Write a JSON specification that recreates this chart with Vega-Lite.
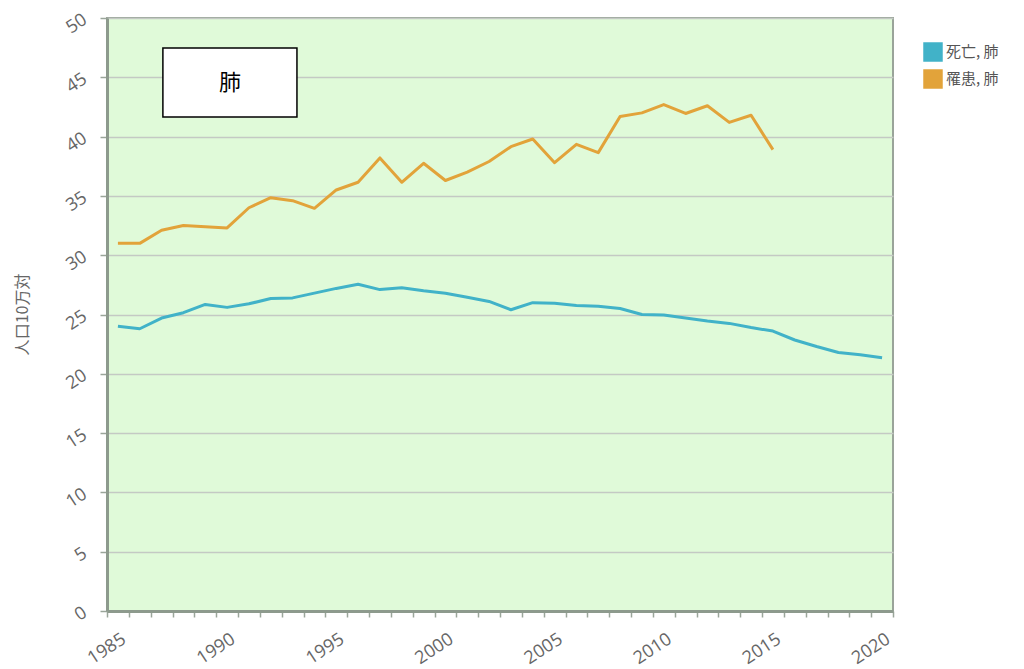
{
  "$schema": "https://vega.github.io/schema/vega-lite/v6.json",
  "width": 786,
  "height": 593,
  "autosize": {"type": "none"},
  "padding": {"left": 107, "top": 18, "right": 131, "bottom": 58},
  "background": "white",
  "config": {
    "font": "Open Sans",
    "view": {"fill": "#e0fad9", "stroke": "#9aa49a", "strokeWidth": 2},
    "axis": {"labelFont": "Open Sans", "titleFont": "Noto Sans CJK JP"}
  },
  "layer": [
    {
      "data": {
        "values": [
          {"year": 1985, "series": "死亡, 肺", "value": 24.0},
          {"year": 1986, "series": "死亡, 肺", "value": 23.8},
          {"year": 1987, "series": "死亡, 肺", "value": 24.7},
          {"year": 1988, "series": "死亡, 肺", "value": 25.15},
          {"year": 1989, "series": "死亡, 肺", "value": 25.85},
          {"year": 1990, "series": "死亡, 肺", "value": 25.6},
          {"year": 1991, "series": "死亡, 肺", "value": 25.9},
          {"year": 1992, "series": "死亡, 肺", "value": 26.35},
          {"year": 1993, "series": "死亡, 肺", "value": 26.4},
          {"year": 1994, "series": "死亡, 肺", "value": 26.8},
          {"year": 1995, "series": "死亡, 肺", "value": 27.2},
          {"year": 1996, "series": "死亡, 肺", "value": 27.55},
          {"year": 1997, "series": "死亡, 肺", "value": 27.1},
          {"year": 1998, "series": "死亡, 肺", "value": 27.25},
          {"year": 1999, "series": "死亡, 肺", "value": 27.0},
          {"year": 2000, "series": "死亡, 肺", "value": 26.8},
          {"year": 2001, "series": "死亡, 肺", "value": 26.45},
          {"year": 2002, "series": "死亡, 肺", "value": 26.1},
          {"year": 2003, "series": "死亡, 肺", "value": 25.4},
          {"year": 2004, "series": "死亡, 肺", "value": 26.0},
          {"year": 2005, "series": "死亡, 肺", "value": 25.95},
          {"year": 2006, "series": "死亡, 肺", "value": 25.75},
          {"year": 2007, "series": "死亡, 肺", "value": 25.7},
          {"year": 2008, "series": "死亡, 肺", "value": 25.5},
          {"year": 2009, "series": "死亡, 肺", "value": 25.0},
          {"year": 2010, "series": "死亡, 肺", "value": 24.95},
          {"year": 2011, "series": "死亡, 肺", "value": 24.7},
          {"year": 2012, "series": "死亡, 肺", "value": 24.45},
          {"year": 2013, "series": "死亡, 肺", "value": 24.25},
          {"year": 2014, "series": "死亡, 肺", "value": 23.9},
          {"year": 2015, "series": "死亡, 肺", "value": 23.6},
          {"year": 2016, "series": "死亡, 肺", "value": 22.85},
          {"year": 2017, "series": "死亡, 肺", "value": 22.3},
          {"year": 2018, "series": "死亡, 肺", "value": 21.8},
          {"year": 2019, "series": "死亡, 肺", "value": 21.6},
          {"year": 2020, "series": "死亡, 肺", "value": 21.35},
          {"year": 1985, "series": "罹患, 肺", "value": 31.0},
          {"year": 1986, "series": "罹患, 肺", "value": 31.0},
          {"year": 1987, "series": "罹患, 肺", "value": 32.1},
          {"year": 1988, "series": "罹患, 肺", "value": 32.5},
          {"year": 1989, "series": "罹患, 肺", "value": 32.4},
          {"year": 1990, "series": "罹患, 肺", "value": 32.3},
          {"year": 1991, "series": "罹患, 肺", "value": 34.0},
          {"year": 1992, "series": "罹患, 肺", "value": 34.85},
          {"year": 1993, "series": "罹患, 肺", "value": 34.6},
          {"year": 1994, "series": "罹患, 肺", "value": 33.95},
          {"year": 1995, "series": "罹患, 肺", "value": 35.5},
          {"year": 1996, "series": "罹患, 肺", "value": 36.15},
          {"year": 1997, "series": "罹患, 肺", "value": 38.2},
          {"year": 1998, "series": "罹患, 肺", "value": 36.15},
          {"year": 1999, "series": "罹患, 肺", "value": 37.75},
          {"year": 2000, "series": "罹患, 肺", "value": 36.3},
          {"year": 2001, "series": "罹患, 肺", "value": 37.0},
          {"year": 2002, "series": "罹患, 肺", "value": 37.9},
          {"year": 2003, "series": "罹患, 肺", "value": 39.15},
          {"year": 2004, "series": "罹患, 肺", "value": 39.8},
          {"year": 2005, "series": "罹患, 肺", "value": 37.8},
          {"year": 2006, "series": "罹患, 肺", "value": 39.35},
          {"year": 2007, "series": "罹患, 肺", "value": 38.65},
          {"year": 2008, "series": "罹患, 肺", "value": 41.7},
          {"year": 2009, "series": "罹患, 肺", "value": 42.0},
          {"year": 2010, "series": "罹患, 肺", "value": 42.7},
          {"year": 2011, "series": "罹患, 肺", "value": 41.95},
          {"year": 2012, "series": "罹患, 肺", "value": 42.6},
          {"year": 2013, "series": "罹患, 肺", "value": 41.2},
          {"year": 2014, "series": "罹患, 肺", "value": 41.8},
          {"year": 2015, "series": "罹患, 肺", "value": 38.9}
        ]
      },
      "mark": {"type": "line", "strokeWidth": 3, "strokeJoin": "round"},
      "encoding": {
        "x": {
          "field": "year",
          "type": "quantitative",
          "scale": {"domain": [1984.5, 2020.5], "nice": false, "zero": false},
          "axis": {
            "title": null,
            "tickCount": 100,
            "values": [1984.5, 1985.5, 1986.5, 1987.5, 1988.5, 1989.5, 1990.5, 1991.5, 1992.5, 1993.5, 1994.5, 1995.5, 1996.5, 1997.5, 1998.5, 1999.5, 2000.5, 2001.5, 2002.5, 2003.5, 2004.5, 2005.5, 2006.5, 2007.5, 2008.5, 2009.5, 2010.5, 2011.5, 2012.5, 2013.5, 2014.5, 2015.5, 2016.5, 2017.5, 2018.5, 2019.5, 2020.5],
            "labelExpr": "(datum.value + 0.5) % 5 == 0 ? '' + (datum.value + 0.5) : ''",
            "labelOffset": 12,
            "labelAngle": -33,
            "labelAlign": "right",
            "labelBaseline": "top",
            "labelPadding": 13,
            "labelOverlap": false,
            "labelFlush": false,
            "labelFontSize": 18,
            "labelColor": "#666666",
            "grid": false,
            "domainColor": "#8d9a8d",
            "domainWidth": 3,
            "tickColor": "#9aa59a",
            "tickSize": 6,
            "tickWidth": 1.5
          }
        },
        "y": {
          "field": "value",
          "type": "quantitative",
          "scale": {"domain": [0, 50], "nice": false},
          "axis": {
            "title": "人口10万対",
            "titleX": -85,
            "titleY": 296,
            "titleAngle": -90,
            "titleAlign": "center",
            "titleBaseline": "middle",
            "titleFontSize": 16,
            "titleFontWeight": "normal",
            "titleColor": "#666666",
            "tickCount": 20,
            "values": [0, 5, 10, 15, 20, 25, 30, 35, 40, 45, 50],
            "labelAngle": -33,
            "labelAlign": "right",
            "labelBaseline": "middle",
            "labelPadding": 15,
            "labelFlush": false,
            "labelFontSize": 18,
            "labelColor": "#666666",
            "grid": true,
            "gridColor": "#c4c9c4",
            "gridWidth": 1.5,
            "domainColor": "#8d9a8d",
            "domainWidth": 3,
            "tickColor": "#9aa59a",
            "tickSize": 7,
            "tickWidth": 1.5
          }
        },
        "color": {
          "field": "series",
          "type": "nominal",
          "scale": {"domain": ["死亡, 肺", "罹患, 肺"], "range": ["#41b2c8", "#e2a33a"]},
          "legend": {
            "title": null,
            "orient": "none",
            "legendX": 816,
            "legendY": 24,
            "symbolType": "square",
            "symbolSize": 380,
            "symbolStrokeWidth": 0,
            "labelFont": "Noto Sans CJK JP",
            "labelFontSize": 15,
            "labelColor": "#555555",
            "labelOffset": 3,
            "rowPadding": 7,
            "encode": {
              "symbols": {"update": {"fill": {"scale": "color", "field": "value"}, "fillOpacity": {"value": 1}}}
            }
          }
        }
      }
    },
    {
      "data": {"values": [{}]},
      "mark": {"type": "rect", "fill": "white", "stroke": "black", "strokeWidth": 1.5},
      "encoding": {
        "x": {"datum": 1987.06, "type": "quantitative"},
        "x2": {"datum": 1993.2},
        "y": {"datum": 47.47, "type": "quantitative"},
        "y2": {"datum": 41.65}
      }
    },
    {
      "data": {"values": [{}]},
      "mark": {"type": "text", "text": "肺", "font": "Noto Sans CJK JP", "fontSize": 22, "color": "black", "align": "center", "baseline": "middle"},
      "encoding": {
        "x": {"datum": 1990.13, "type": "quantitative"},
        "y": {"datum": 44.56, "type": "quantitative"}
      }
    }
  ]
}
